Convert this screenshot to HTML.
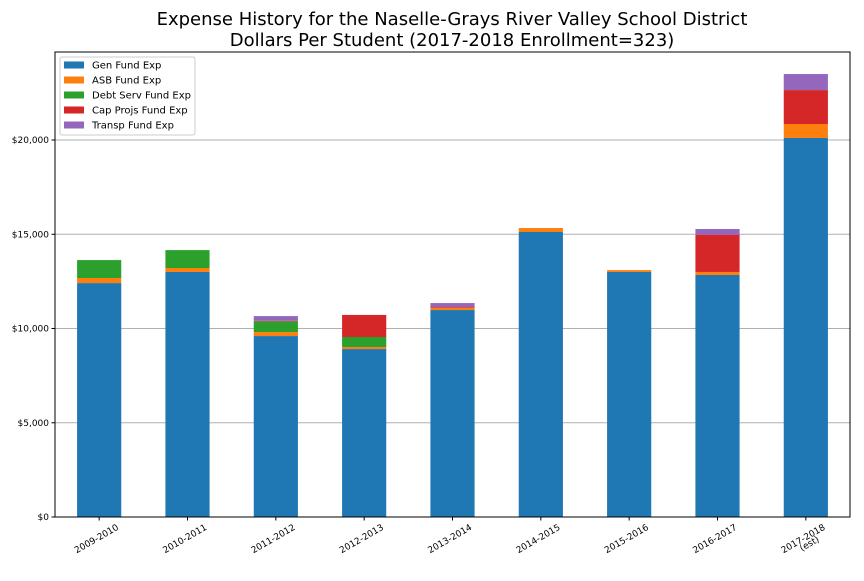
<!DOCTYPE html>
<html><head><meta charset="utf-8"><style>
body{margin:0;background:#fff;}
svg text{font-family:"DejaVu Sans","Liberation Sans",sans-serif;}
</style></head><body>
<svg id="chart" width="864" height="576" xmlns="http://www.w3.org/2000/svg">
<rect width="864" height="576" fill="#fff"/>
<text x="452" y="25" font-size="18" text-anchor="middle">Expense History for the Naselle-Grays River Valley School District</text>
<text x="452" y="46" font-size="18" text-anchor="middle">Dollars Per Student (2017-2018 Enrollment=323)</text>
<g id="grid"></g>
<g id="bars"></g>
<g id="axes"></g>
<g id="legend"></g>
</svg>
<script>
const categories=["2009-2010","2010-2011","2011-2012","2012-2013","2013-2014","2014-2015","2015-2016","2016-2017","2017-2018|(est)"];
const seriesNames=["Gen Fund Exp","ASB Fund Exp","Debt Serv Fund Exp","Cap Projs Fund Exp","Transp Fund Exp"];
const genFund=[12410,13000,9600,8910,10980,15120,13000,12840,20110];
const asbFund=[270,210,210,110,120,210,100,160,740];
const debtFund=[950,950,570,530,0,0,0,0,0];
const capFund=[0,0,30,1170,40,0,0,1980,1800];
const transpFund=[0,0,250,0,210,0,0,300,850];
const yTicks=[0,5000,10000,15000,20000];
const yTickLabels=["$0","$5,000","$10,000","$15,000","$20,000"];
const colors=["#1f77b4","#ff7f0e","#2ca02c","#d62728","#9467bd"];
const L=55,R=850,T=52,B=517,yMax=24670;
const ns="http://www.w3.org/2000/svg";
const y=v=>B-(v/yMax)*(B-T);
const step=(R-L)/categories.length;
const xc=i=>L+step*(i+0.5);
const bw=step*0.5;
function mk(tag,attrs,parent){const e=document.createElementNS(ns,tag);for(const k in attrs)e.setAttribute(k,attrs[k]);parent.appendChild(e);return e;}
const grid=document.getElementById('grid'),bars=document.getElementById('bars'),axes=document.getElementById('axes'),leg=document.getElementById('legend');
yTicks.forEach((v,i)=>{
  if(v>0){const g=mk('line',{x1:L,x2:R,y1:y(v),y2:y(v),stroke:'#b0b0b0','stroke-width':1},grid);
  
  }
  mk('line',{x1:L-3.5,x2:L,y1:y(v),y2:y(v),stroke:'#000'},axes);
  const t=mk('text',{x:L-6,y:y(v)+3,'font-size':9,'text-anchor':'end'},axes);
  t.textContent=yTickLabels[i];
  
  
});
const series=[genFund,asbFund,debtFund,capFund,transpFund];
categories.forEach((c,i)=>{
  let base=0;
  series.forEach((s,k)=>{
    const v=s[i];
    if(v>0){
      const r=mk('rect',{x:xc(i)-bw/2,y:y(base+v),width:bw,height:y(base)-y(base+v),fill:colors[k]},bars);
      
      
    }
    base+=v;
  });
  mk('line',{x1:xc(i),x2:xc(i),y1:B,y2:B+3.5,stroke:'#000'},axes);
  const parts=c.split('|');
  const t=mk('text',{'font-size':9,'text-anchor':'end',transform:`translate(${xc(i)+20},${B+12}) rotate(-30)`},axes);
  t.textContent=parts[0];
  
  
  if(parts[1]){const t2=mk('text',{'font-size':9,'text-anchor':'end',transform:`translate(${xc(i)+14},${B+24}) rotate(-30)`},axes);
  t2.textContent=parts[1];
  
  }
});
const fr=mk('rect',{x:L,y:T,width:R-L,height:B-T,fill:'none',stroke:'#000','stroke-width':1},axes);


const lb=mk('rect',{x:60,y:57,width:135,height:78,rx:2,fill:'#fff','fill-opacity':0.8,stroke:'#ccc'},leg);


seriesNames.forEach((n,k)=>{
  const yy=65+k*15;
  const p=mk('rect',{x:64,y:yy-3.5,width:20,height:7,fill:colors[k]},leg);
  
  
  const t=mk('text',{x:92,y:yy+3.5,'font-size':10},leg);
  t.textContent=n;
  
  
});
</script>
</body></html>
